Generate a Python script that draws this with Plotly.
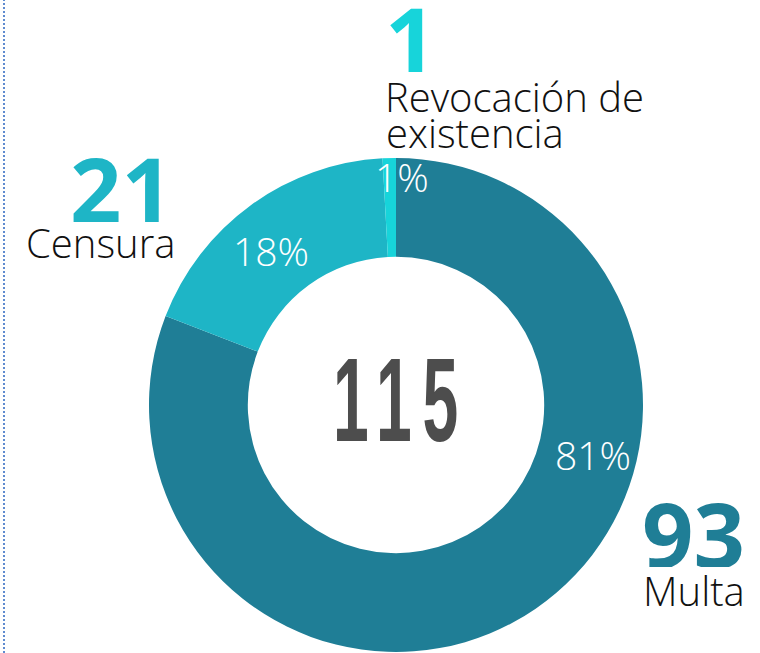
import plotly.graph_objects as go

categories = ["Multa", "Censura", "Revocación de existencia"]
values = [93, 21, 1]
colors = ["#1F7E96", "#1EB5C6", "#17D4DA"]
label_lines = [["Multa"], ["Censura"], ["Revocación de", "existencia"]]

total = sum(values)
W, H = 760, 653

fig = go.Figure()
fig.add_trace(go.Pie(
    labels=categories,
    values=values,
    hole=0.6,
    sort=False,
    direction="clockwise",
    rotation=0,
    marker=dict(colors=colors, line=dict(width=0)),
    textinfo="none",
    hoverinfo="label+value+percent",
    showlegend=False,
    domain=dict(x=[(396 - 247) / W, (396 + 247) / W], y=[1 - 652 / H, 1 - 158 / H]),
))


def px(x, y):
    return x / W, 1 - y / H


anns = []
# percentage labels
pct_pos = [(593, 454), (271, 250), (402, 176)]
for v, (x, y) in zip(values, pct_pos):
    ax, ay = px(x, y)
    anns.append(dict(x=ax, y=ay, xref="paper", yref="paper", showarrow=False,
                     text=f"{round(v / total * 100)}%", xanchor="center", yanchor="middle",
                     height=44, valign="middle",
                     font=dict(family="Open Sans", size=39, color="white", weight=300)))

# big numbers
num_pos = [(693, 533), (121, 188), (411, 38)]
for v, c, (x, y) in zip(values, colors, num_pos):
    ax, ay = px(x, y)
    anns.append(dict(x=ax, y=ay, xref="paper", yref="paper", showarrow=False,
                     text=f"<b>{v}</b>", xanchor="center", yanchor="middle",
                     height=68, valign="middle",
                     font=dict(family="Open Sans", size=90, color=c)))

# category names (one annotation per line for tight line spacing)
name_pos = [[(641, 590)], [(24, 242)], [(383, 96), (384, 132)]]
for lines, poss in zip(label_lines, name_pos):
    for line, (x, y) in zip(lines, poss):
        ax, ay = px(x, y)
        anns.append(dict(x=ax, y=ay, xref="paper", yref="paper", showarrow=False,
                         text=line, xanchor="left", yanchor="middle",
                         height=34, valign="middle",
                         font=dict(family="Open Sans", size=40, color="#111111", weight=300)))

# total in center
cx, cy = px(401, 400)
anns.append(dict(x=cx, y=cy, xref="paper", yref="paper", showarrow=False,
                 text=f"{total}", xanchor="center", yanchor="middle",
                 font=dict(family="Liberation Sans Narrow, Liberation Sans, Arial, sans-serif",
                           size=119, color="#4D4D4D", weight="bold")))

fig.update_layout(
    width=W, height=H,
    margin=dict(l=0, r=0, t=0, b=0),
    paper_bgcolor="white", plot_bgcolor="white",
    annotations=anns,
    shapes=[dict(type="line", xref="paper", yref="paper", x0=4 / W, x1=4 / W, y0=0, y1=1,
                 line=dict(color="#5F8BD0", width=2, dash="2px,2px"))],
)

post = """
document.body.style.margin = '0';
var target = '%s';
document.querySelectorAll('.annotation-text').forEach(function(el){
  if (el.textContent === target) {
    el.style.letterSpacing = '20px';
    var bb = el.getBBox();
    var s = 136 / bb.width;
    el.style.transformBox = 'fill-box';
    el.style.transformOrigin = 'center';
    el.style.transform = 'scaleX(' + s + ')';
  }
});
""" % str(total)

fig.write_html("out.html", post_script=post, config={"displayModeBar": False})
